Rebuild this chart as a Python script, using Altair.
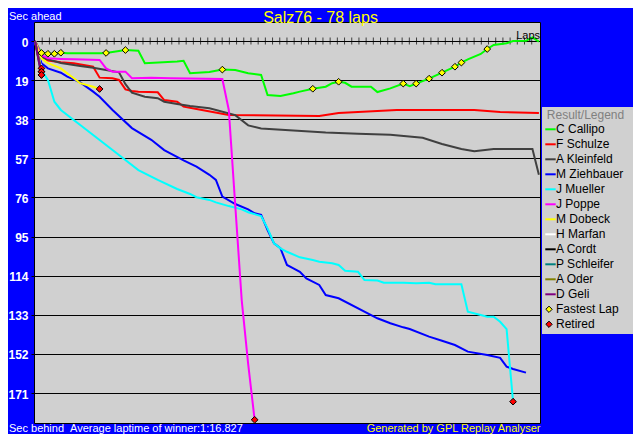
import altair as alt
import pandas as pd

# ---------------- data ----------------
title_text = "Salz76 - 78 laps"
drivers = ["C Callipo", "F Schulze", "A Kleinfeld", "M Ziehbauer", "J Mueller", "J Poppe",
           "M Dobeck", "H Marfan", "A Cordt", "P Schleifer", "A Oder", "D Geli"]
colors = ["#00FF00", "#FF0000", "#404040", "#0000FF", "#00FFFF", "#FF00FF",
          "#FFFF00", "#FFFFFF", "#000000", "#008080", "#808000", "#800080"]

callipo_laps = [0, 1, 2, 3, 4, 5, 10, 11, 12, 14, 16, 17, 22, 23, 24, 27, 29, 31, 33, 35, 36, 38, 40, 41,
                43, 45, 46, 47, 48, 49, 52, 53, 55, 57, 58, 59, 61, 63, 65, 66, 67, 69, 70, 71, 73, 74,
                76, 77, 78]
callipo_secs = [0, 5.8, 6.2, 6.2, 5.7, 6.0, 6.0, 5.8, 5.3, 4.4, 4.7, 10.8, 10.0, 9.6, 15.7, 15.1, 13.9,
                14.1, 15.7, 16.5, 26.2, 26.7, 25.4, 24.6, 23.2, 22.2, 20.5, 19.8, 20.3, 22.2, 22.2, 24.8,
                23.0, 20.7, 21.9, 20.7, 18.3, 15.4, 12.5, 10.5, 8.9, 6.3, 3.9, 1.9, 1.1, 0, -0.1, -1.8, 0.3]

schulze_laps = [0, 1, 2, 4, 6, 9, 10, 12, 13, 14, 15, 16, 19, 20, 22, 23, 25, 30, 44, 47, 56, 68, 72, 78]
schulze_secs = [0, 7.5, 9.5, 10.3, 10.8, 12.5, 17.8, 18.1, 18.9, 23.5, 24.3, 24.6, 24.9, 28.7, 29.5,
                31.9, 33.0, 36.0, 36.4, 35.0, 33.5, 33.5, 34.5, 35.0]

kleinfeld_laps = [0, 1, 4, 7, 9, 11, 13, 14, 15, 17, 19, 20, 22, 24, 27, 31, 33, 35, 40, 45, 50, 55, 60,
                  63, 66, 68, 71, 74, 77, 78]
kleinfeld_secs = [0, 8.0, 10.7, 12.1, 13.0, 14.1, 15.2, 21.0, 25.1, 27.1, 27.8, 29.5, 30.6, 31.6, 32.7,
                  36.0, 41.0, 42.5, 43.5, 44.5, 45.0, 45.5, 47.0, 50.0, 52.5, 53.5, 52.5, 52.5, 52.5, 65.0]

ziehbauer_laps = [0, 1, 2, 4, 5, 7, 9, 10, 12, 15, 18, 20, 23, 25, 27, 28, 29, 31, 33, 34, 35, 36, 37,
                  38, 39, 40, 41, 42, 44, 45, 47, 53, 55, 57, 58, 61, 63, 65, 67, 70, 72, 73, 74, 76]
ziehbauer_secs = [0, 10.8, 13.3, 15.4, 17.3, 20.1, 24.6, 27.1, 33.5, 42.3, 48.0, 53.0, 58.0, 61.0, 65.0,
                  67.5, 75.6, 79.2, 81.8, 83.7, 84.5, 91.8, 98.3, 100.7, 108.8, 110.4, 112.1, 115.3,
                  118.5, 123.4, 125.0, 134.7, 137.1, 139.1, 139.9, 143.6, 145.6, 147.7, 150.9, 152.5,
                  153.9, 158.2, 159.3, 161.1]

mueller_laps = [0, 1, 2, 3, 4, 7, 10, 13, 16, 19, 22, 24, 25, 27, 28, 30, 32, 33, 35, 36, 37, 38, 39, 41,
                43, 44, 46, 47, 48, 50, 51, 53, 54, 57, 59, 61, 62, 66, 67, 69, 70, 71, 72, 73, 74]
mueller_secs = [0, 14.1, 18.9, 29.5, 33.5, 40.8, 48.1, 55.4, 62.7, 67.5, 71.9, 74.3, 75.9, 77.2, 78.4,
                80.2, 81.8, 83.2, 85.0, 91.0, 98.3, 100.7, 102.4, 105.1, 106.4, 107.2, 108.0, 108.8,
                111.6, 112.1, 116.1, 116.4, 117.4, 117.4, 117.7, 117.4, 118.2, 118.2, 131.5, 133.1,
                133.9, 133.9, 136.4, 140.0, 175.2]

poppe_laps = [0, 1, 2, 4, 6, 10, 11, 12, 14, 15, 18, 21, 29, 30, 31, 32, 33, 34]
poppe_secs = [0, 6.8, 8.4, 8.7, 8.9, 9.2, 13.3, 14.9, 14.9, 18.1, 17.8, 18.1, 18.5, 33.5, 80.0, 126.0,
              157.0, 184.0]

dobeck_laps = [0, 1, 2, 4, 6, 7, 9, 10]
dobeck_secs = [0, 8.5, 10.8, 13.3, 18.1, 20.5, 22.2, 23.3]

marfan_laps = [0, 1]
marfan_secs = [0, 13.3]
cordt_laps = [0, 1]
cordt_secs = [0, 14.9]
schleifer_laps = [0, 1]
schleifer_secs = [0, 16.5]
oder_laps = [0, 1]
oder_secs = [0, 14.9]
geli_laps = [0, 1]
geli_secs = [0, 16.5]

series_laps = [callipo_laps, schulze_laps, kleinfeld_laps, ziehbauer_laps, mueller_laps, poppe_laps,
               dobeck_laps, marfan_laps, cordt_laps, schleifer_laps, oder_laps, geli_laps]
series_secs = [callipo_secs, schulze_secs, kleinfeld_secs, ziehbauer_secs, mueller_secs, poppe_secs,
               dobeck_secs, marfan_secs, cordt_secs, schleifer_secs, oder_secs, geli_secs]

fastest_laps = [1, 2, 3, 4, 11, 14, 29, 43, 47, 57, 59, 61, 63, 65, 66, 70]
fastest_secs = [5.8, 6.2, 6.2, 5.7, 5.8, 4.4, 13.9, 23.2, 19.8, 20.7, 20.7, 18.3, 15.4, 12.5, 10.5, 3.9]

retired_laps = [1, 1, 1, 1, 1, 10, 34, 74]
retired_secs = [13.3, 14.9, 16.5, 14.9, 16.5, 23.3, 184.0, 175.2]

y_ticks = [0, 19, 38, 57, 76, 95, 114, 133, 152, 171]
lap_tick_count = 70
total_laps = 78

legend_title = "Result/Legend"
legend_labels = drivers + ["Fastest Lap", "Retired"]
legend_colors = colors + ["#FFFF00", "#FF0000"]
legend_kinds = ["line"] * len(drivers) + ["point", "point"]

footer_left1 = "Sec behind"
footer_left2 = "Average laptime of winner:1:16.827"
footer_right = "Generated by GPL Replay Analyser"
header_left = "Sec ahead"
laps_label = "Laps"

# ---------------- chart ----------------
FONT = "Liberation Sans"
W, H = 506, 401

xs = alt.Scale(domain=[-0.155, 78.17], nice=False, zero=False)
ys = alt.Scale(domain=[-9.23, 185.57], reverse=True, nice=False, zero=False)

X = alt.X("lap:Q", scale=xs, axis=None)
Y = alt.Y("sec:Q", scale=ys, axis=alt.Axis(
    values=y_ticks, grid=True, gridColor="#000000", gridOpacity=1, gridWidth=1,
    domain=False, ticks=True, tickColor="#000000", tickSize=3, tickWidth=1,
    labelColor="#FFFFFF", labelFont=FONT, labelFontSize=12, labelFontWeight="bold",
    labelPadding=3, labelOffset=1, title=None))

one = pd.DataFrame({"a": [0]})

layers = []

# lap tick marks on zero line
tick_df = pd.DataFrame({"lap": [k * total_laps / lap_tick_count for k in range(1, lap_tick_count)],
                        "sec": [0] * (lap_tick_count - 1)})
layers.append(alt.Chart(tick_df).mark_tick(orient="vertical", size=7, thickness=1, color="#000000")
              .encode(x=X, y=Y))

# driver lines
for name, col, lp, sc in zip(drivers, colors, series_laps, series_secs):
    d = pd.DataFrame({"lap": lp, "sec": sc, "driver": name})
    layers.append(alt.Chart(d).mark_line(color=col, strokeWidth=2, strokeJoin="miter")
                  .encode(x=X, y=Y, order="lap:Q"))

# fastest laps / retirements
fl_df = pd.DataFrame({"lap": fastest_laps, "sec": fastest_secs})
layers.append(alt.Chart(fl_df).mark_point(shape="diamond", filled=True, fill="#FFFF00", stroke="#000000",
                                          strokeWidth=1, size=45, opacity=1).encode(x=X, y=Y))
rt_df = pd.DataFrame({"lap": retired_laps, "sec": retired_secs})
layers.append(alt.Chart(rt_df).mark_point(shape="diamond", filled=True, fill="#FF0000", stroke="#000000",
                                          strokeWidth=1, size=45, opacity=1).encode(x=X, y=Y))


def txt(s, x, y, color, size=11, align="left", baseline="alphabetic", weight="normal"):
    return alt.Chart(one).mark_text(text=s, font=FONT, fontSize=size, color=color, align=align,
                                    baseline=baseline, fontWeight=weight).encode(
        x=alt.value(x), y=alt.value(y))


layers.append(txt(title_text, 286.5, 0.6, "#FFFF00", size=16, align="center"))
layers.append(txt(header_left, -25, -2, "#FFFFFF"))
layers.append(txt(footer_left1, -25, 409.6, "#FFFFFF"))
layers.append(txt(footer_left2, 36, 409.6, "#FFFFFF"))
layers.append(txt(footer_right, 506.5, 409.6, "#FFFF00", align="right"))
layers.append(txt(laps_label, 506, 17.3, "#000000", align="right"))

# legend box
layers.append(alt.Chart(one).mark_rect(color="#D0D0D0").encode(
    x=alt.value(508), x2=alt.value(599), y=alt.value(85), y2=alt.value(312)))
layers.append(txt(legend_title, 551.5, 93, "#808080", size=12, align="center", baseline="middle"))

leg_df = pd.DataFrame({"label": legend_labels, "color": legend_colors, "kind": legend_kinds,
                       "idx": list(range(len(legend_labels)))})
leg_base = alt.Chart(leg_df).transform_calculate(py="107.3 + 15 * datum.idx")
layers.append(leg_base.transform_filter("datum.kind == 'line'").mark_rule(strokeWidth=2).encode(
    x=alt.value(511.3), x2=alt.value(521.7), y=alt.Y("py:Q", scale=None),
    color=alt.Color("color:N", scale=None)))
layers.append(leg_base.transform_filter("datum.kind == 'point'").mark_point(
    shape="diamond", filled=True, stroke="#000000", strokeWidth=1, size=40, opacity=1).encode(
    x=alt.value(515), y=alt.Y("py:Q", scale=None), fill=alt.Color("color:N", scale=None)))
layers.append(leg_base.mark_text(align="left", baseline="middle", font=FONT, fontSize=12,
                                 color="#000000").encode(
    x=alt.value(522), y=alt.Y("py:Q", scale=None), text="label:N"))

chart = alt.layer(*layers).properties(
    width=W, height=H,
    padding={"left": 26, "top": 14, "right": 93, "bottom": 11},
    autosize=alt.AutoSizeParams(type="none"),
).configure(background="#0000FF", font=FONT).configure_view(
    fill="#D0D0D0", stroke="#000000", strokeWidth=1)

chart.save("out.html", embed_options={"renderer": "svg", "actions": False})
